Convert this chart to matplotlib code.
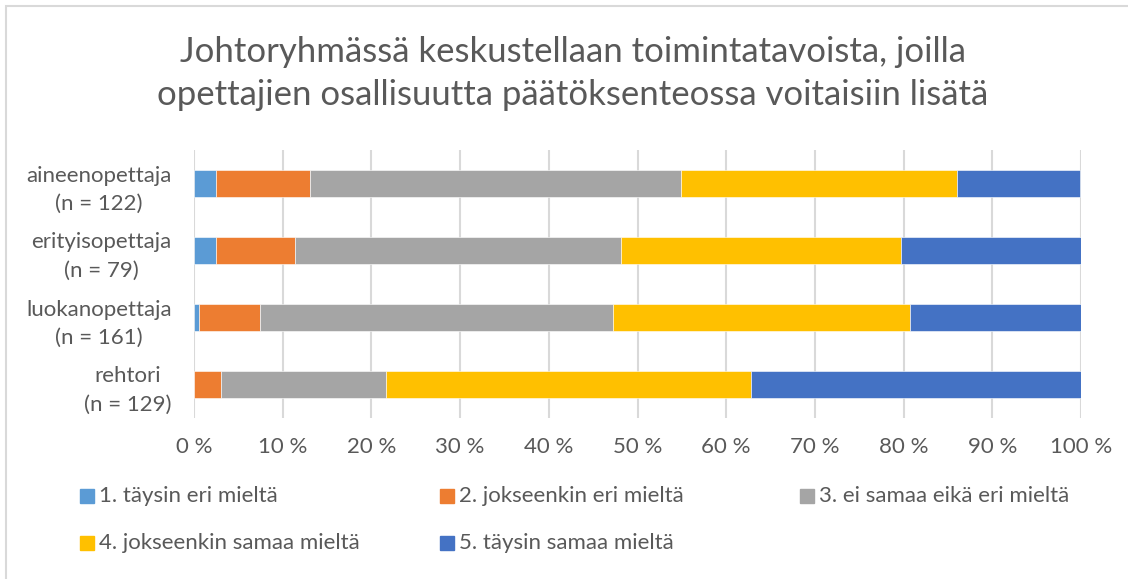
import matplotlib.pyplot as plt
from matplotlib.patches import Rectangle

# shares (%), top row first
groups = ["aineenopettaja\n(n = 122)", "erityisopettaja\n(n = 79)",
          "luokanopettaja\n(n = 161)", "rehtori\n(n = 129)"]
series_names = ["1. täysin eri mieltä", "2. jokseenkin eri mieltä",
                "3. ei samaa eikä eri mieltä", "4. jokseenkin samaa mieltä",
                "5. täysin samaa mieltä"]
s1 = [2.5, 2.5, 0.6, 0.0]
s2 = [10.6, 8.9, 6.8, 3.1]
s3 = [41.8, 36.7, 39.8, 18.6]
s4 = [31.1, 31.6, 33.5, 41.1]
s5 = [13.9, 20.3, 19.3, 37.2]
colors = ["#5B9BD5", "#ED7D31", "#A5A5A5", "#FFC000", "#4472C4"]
xticks = list(range(0, 101, 10))

plt.rcParams['font.family'] = ['Lato', 'DejaVu Sans']
txt = "#595959"

W, H = 1128, 579
fig = plt.figure(figsize=(W / 100, H / 100), dpi=100)
ax = fig.add_axes([194 / W, 1 - 418 / H, 887 / W, 268 / H])

pos = list(range(len(groups)))
left = [0.0] * len(groups)
for vals, c in zip([s1, s2, s3, s4, s5], colors):
    ax.barh(pos, vals, left=left, height=0.4, color=c, edgecolor="white",
            linewidth=0.4, zorder=3)
    left = [l + v for l, v in zip(left, vals)]

ax.set_xlim(0, 100)
ax.set_ylim(3.5, -0.5)
ax.set_xticks(xticks)
ax.set_xticklabels([f"{t} %" for t in xticks])
ax.set_yticks(pos)
ax.set_yticklabels(groups, multialignment="center", linespacing=1.55)
ax.tick_params(length=0, labelsize=16, labelcolor=txt)
ax.tick_params(axis="y", pad=16)
ax.tick_params(axis="x", pad=14)
ax.grid(axis="x", color="#D9D9D9", linewidth=1.5, zorder=0)
for s in ax.spines.values():
    s.set_visible(False)

fig.text(573 / W, 1 - 73.5 / H,
         "Johtoryhmässä keskustellaan toimintatavoista, joilla\n"
         "opettajien osallisuutta päätöksenteossa voitaisiin lisätä",
         ha="center", va="center", fontsize=25, color=txt, linespacing=1.4)

# legend laid out in two rows, three columns
lx = [80, 440, 800, 80, 440]
ly = [496, 496, 496, 543, 543]
for name, c, x, y in zip(series_names, colors, lx, ly):
    fig.add_artist(Rectangle((x / W, 1 - (y + 7) / H), 14 / W, 14 / H,
                             color=c, transform=fig.transFigure))
    fig.text((x + 19) / W, 1 - y / H, name, ha="left", va="center",
             fontsize=16, color=txt)

# chart area border
fig.add_artist(Rectangle((6 / W, -0.1), 1.2, 1 - 6 / H + 0.1, fill=False,
                         edgecolor="#D9D9D9", linewidth=1.5,
                         transform=fig.transFigure))

fig.savefig("out.png", dpi=100)
